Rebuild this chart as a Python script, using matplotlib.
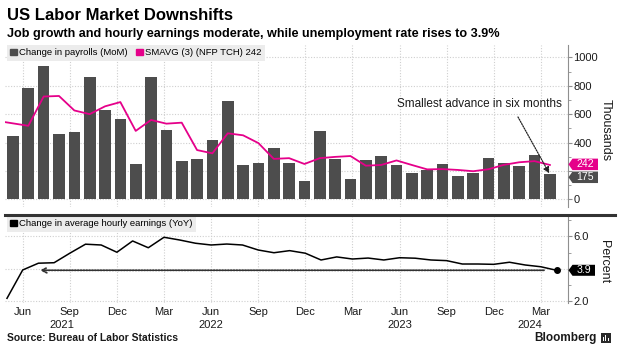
import matplotlib
matplotlib.use("Agg")
import matplotlib.pyplot as plt
import matplotlib.transforms as mtransforms
from matplotlib.patches import Polygon, Patch, Rectangle
import numpy as np

plt.rcParams['font.family'] = ['Liberation Sans', 'DejaVu Sans']

# ---------------- data ----------------
bar_months = ['May 2021', 'Jun 2021', 'Jul 2021', 'Aug 2021', 'Sep 2021', 'Oct 2021', 'Nov 2021', 'Dec 2021',
              'Jan 2022', 'Feb 2022', 'Mar 2022', 'Apr 2022', 'May 2022', 'Jun 2022', 'Jul 2022', 'Aug 2022',
              'Sep 2022', 'Oct 2022', 'Nov 2022', 'Dec 2022', 'Jan 2023', 'Feb 2023', 'Mar 2023', 'Apr 2023',
              'May 2023', 'Jun 2023', 'Jul 2023', 'Aug 2023', 'Sep 2023', 'Oct 2023', 'Nov 2023', 'Dec 2023',
              'Jan 2024', 'Feb 2024', 'Mar 2024', 'Apr 2024']
payrolls = [448, 782, 941, 462, 476, 861, 629, 565,
            251, 861, 488, 270, 284, 418, 692, 242, 253, 359, 258, 129,
            482, 287, 146, 278, 303, 240, 184, 210, 246, 165, 182, 290,
            256, 236, 315, 175]
# 3-month moving average, Apr 2021 .. Apr 2024
smavg = [552, 535, 518, 724, 728, 626, 600, 655, 685,
         482, 559, 533, 540, 347, 324, 465, 451, 396, 285, 290, 249,
         290, 299, 305, 237, 242, 274, 242, 211, 213, 207, 198, 212,
         243, 261, 269, 242]
# average hourly earnings YoY %, May 2021 .. Apr 2024
ahe = [2.16, 3.92, 4.34, 4.37, 4.96, 5.52, 5.47, 5.02,
       5.72, 5.30, 5.95, 5.78, 5.58, 5.47, 5.53, 5.47, 5.16, 4.99, 5.12, 4.96,
       4.54, 4.73, 4.60, 4.66, 4.54, 4.68, 4.65, 4.54, 4.50, 4.29, 4.29, 4.27,
       4.40, 4.23, 4.12, 3.9]
tick_month_labels = ['Jun', 'Sep', 'Dec', 'Mar', 'Jun', 'Sep', 'Dec', 'Mar', 'Jun', 'Sep', 'Dec', 'Mar']
year_labels = ['2021', '2022', '2023', '2024']
top_tick_labels = ['0', '', '400', '600', '800', '1000']   # 200 sits under the value tags
bottom_tick_labels = ['2.0', '', '6.0']                  # 4.0 sits under the value tag

# ---------------- styles ----------------
BAR = '#4d4d4d'
MAG = '#e5008a'
GRID = '#cfcfcf'
SPINE = '#8f8f8f'
TXT = '#1a1a1a'

W, H = 622, 349
fig = plt.figure(figsize=(W / 100, H / 100), dpi=100)


def fx(px):
    return px / W


def fy(py):
    return 1 - py / H


ax1 = fig.add_axes([fx(5), fy(207), fx(568) - fx(5), fy(45) - fy(207)])
ax2 = fig.add_axes([fx(5), fy(303), fx(568) - fx(5), fy(216) - fy(303)])

# ---------- top panel ----------
xb = np.arange(len(payrolls))
ax1.bar(xb, payrolls, width=0.76, color=BAR, zorder=2)
ax1.plot(np.arange(-1, len(payrolls)), smavg, color=MAG, lw=1.3, zorder=3)
ax1.set_xlim(-0.52, 36.18)
ax1.set_ylim(-54, 1087)

for s in ['left', 'top', 'bottom']:
    ax1.spines[s].set_visible(False)
ax1.spines['right'].set_color(SPINE)
ax1.spines['right'].set_linewidth(0.8)
ax1.yaxis.tick_right()
ax1.set_yticks(range(0, 1001, 200))
ax1.set_yticklabels(top_tick_labels)
ax1.set_yticks(range(100, 1001, 200), minor=True)
ax1.tick_params(axis='y', which='major', length=3, width=0.8, color=SPINE,
                labelcolor=TXT, labelsize=8, pad=1)
ax1.tick_params(axis='y', which='minor', length=2, width=0.6, color=SPINE)
ax1.set_xticks([])
ax1.yaxis.grid(True, ls=(0, (1, 1.5)), color=GRID, lw=0.8, zorder=0)
ax1.set_axisbelow(True)

# ---------- bottom panel ----------
xm = np.arange(len(ahe))
ax2.plot(xm, ahe, color='black', lw=1.1, zorder=3)
ax2.plot(xm[-1], ahe[-1], 'o', ms=4, color='black', zorder=4)
ax2.set_xlim(-0.127, 35.73)
ax2.set_ylim(1.87, 7.27)
for s in ['left', 'top', 'bottom']:
    ax2.spines[s].set_visible(False)
ax2.spines['right'].set_color(SPINE)
ax2.spines['right'].set_linewidth(0.8)
ax2.yaxis.tick_right()
ax2.set_yticks([2, 4, 6])
ax2.set_yticklabels(bottom_tick_labels)
ax2.set_yticks([3, 5, 7], minor=True)
ax2.tick_params(axis='y', which='major', length=3, width=0.8, color=SPINE,
                labelcolor=TXT, labelsize=8, pad=1)
ax2.tick_params(axis='y', which='minor', length=2, width=0.6, color=SPINE)
ax2.yaxis.grid(True, ls=(0, (1, 1.5)), color=GRID, lw=0.8, zorder=0)

tick_pos = np.arange(1, 35, 3)
ax2.set_xticks(tick_pos)
ax2.set_xticklabels(tick_month_labels)
ax2.tick_params(axis='x', length=0, labelsize=8, labelcolor=TXT, pad=3)
ax2.xaxis.grid(True, ls=(0, (1, 1.5)), color=GRID, lw=0.8, zorder=0)
ax2.set_axisbelow(True)

# vertical grid lines in top panel at the same dates
bt = mtransforms.blended_transform_factory(ax2.transData, ax1.transAxes)
for m in tick_pos:
    ax1.plot([m, m], [0, 1], transform=bt, ls=(0, (1, 1.5)), color=GRID, lw=0.8, zorder=0)

year_pos = [3.5, 13, 25, 33.3]
ytr = mtransforms.blended_transform_factory(ax2.transData, ax2.transAxes)
for p, lab in zip(year_pos, year_labels):
    ax2.text(p, -0.255, lab, transform=ytr, ha='center', va='center', fontsize=8, color=TXT)

# dotted arrow at latest level
ax2.annotate('', xy=(2.1, ahe[-1]), xytext=(34.2, ahe[-1]),
             arrowprops=dict(arrowstyle='->,head_length=0.35,head_width=0.18',
                             ls=(0, (0.8, 0.8)), color='#333333', lw=1.3,
                             shrinkA=0, shrinkB=0), zorder=2)

# ---------- legends ----------
leg1 = ax1.legend([Patch(color=BAR), Patch(color=MAG)],
                  ['Change in payrolls (MoM)', 'SMAVG (3) (NFP TCH) 242'],
                  loc='upper left', bbox_to_anchor=(0.003, 1.0), ncol=2, fontsize=6.8,
                  frameon=True, facecolor='#ececec', edgecolor='none', fancybox=False,
                  handlelength=0.75, handleheight=0.75, handletextpad=0.25,
                  columnspacing=0.8, borderpad=0.35, borderaxespad=0.0)
leg1.get_frame().set_alpha(1)
leg2 = ax2.legend([Patch(color='black')], ['Change in average hourly earnings (YoY)'],
                  loc='upper left', bbox_to_anchor=(0.003, 1.0), fontsize=6.8,
                  frameon=True, facecolor='#ececec', edgecolor='none', fancybox=False,
                  handlelength=0.75, handleheight=0.75, handletextpad=0.25,
                  borderpad=0.35, borderaxespad=0.0)
leg2.get_frame().set_alpha(1)

# ---------- annotation ----------
ax1.text(30.4, 671, 'Smallest advance in six months', ha='center', va='center',
         fontsize=8.5, color=TXT, zorder=5)
ax1.annotate('', xy=(xb[-1], payrolls[-1]), xytext=(32.92, 580),
             arrowprops=dict(arrowstyle='-|>,head_length=0.35,head_width=0.18',
                             ls=(0, (1, 1)), color='#222222', lw=0.9,
                             shrinkA=0, shrinkB=1), zorder=5)


# ---------- value tags ----------
def add_tag(ax, yval, txt, fc, dy=0, w=30, h=11, fs=7.5):
    btr = mtransforms.blended_transform_factory(ax.transAxes, ax.transData)
    tr = mtransforms.Affine2D().translate(0, dy) + mtransforms.ScaledTranslation(1.0, yval, btr)
    verts = [(0.5, 0), (4.5, h / 2), (w, h / 2), (w, -h / 2), (4.5, -h / 2)]
    poly = Polygon(verts, closed=True, transform=tr, facecolor=fc, edgecolor='none',
                   clip_on=False, zorder=10)
    ax.add_artist(poly)
    ax.text(w / 2 + 2.5, 0, txt, transform=tr, ha='center', va='center', color='white',
            fontsize=fs, clip_on=False, zorder=11)


add_tag(ax1, smavg[-1], f'{smavg[-1]}', MAG, dy=0.6, h=11.5, fs=7.6)
add_tag(ax1, payrolls[-1], f'{payrolls[-1]}', BAR, dy=-2.8, h=11.5, fs=7.6)
add_tag(ax2, ahe[-1], f'{ahe[-1]:.1f}', 'black', dy=0, w=27, h=11, fs=7.6)

# ---------- axis titles ----------
fig.text(fx(606), fy(130), 'Thousands', rotation=270, ha='center', va='center', fontsize=9, color=TXT)
fig.text(fx(604), fy(262), 'Percent', rotation=270, ha='center', va='center', fontsize=9, color=TXT)

# separator
fig.add_artist(plt.Line2D([fx(5), fx(615)], [fy(215), fy(215)], transform=fig.transFigure,
                          color='#333333', lw=2.2))

# ---------- titles ----------
fig.text(fx(7), fy(16), 'US Labor Market Downshifts', weight='bold', fontsize=12,
         ha='left', va='center', color='black')
fig.text(fx(7), fy(34), 'Job growth and hourly earnings moderate, while unemployment rate rises to 3.9%',
         weight='bold', fontsize=9.1, ha='left', va='center', color='black')
fig.text(fx(7), fy(338), 'Source: Bureau of Labor Statistics', weight='bold', fontsize=7.5,
         ha='left', va='center', color=TXT)
fig.text(fx(597), fy(338), 'Bloomberg', weight='bold', fontsize=8.5, ha='right', va='center', color=TXT)
fig.add_artist(Rectangle((fx(601), fy(343)), 10 / W, 10 / H, transform=fig.transFigure,
                         facecolor='#2a2a2a', edgecolor='none'))
for i, hgt in enumerate([4, 6, 3]):
    fig.add_artist(Rectangle((fx(603 + 2.3 * i), fy(341)), 1.2 / W, hgt / H, transform=fig.transFigure,
                             facecolor='white', edgecolor='none'))

fig.savefig('out.png', dpi=100, facecolor='white')
